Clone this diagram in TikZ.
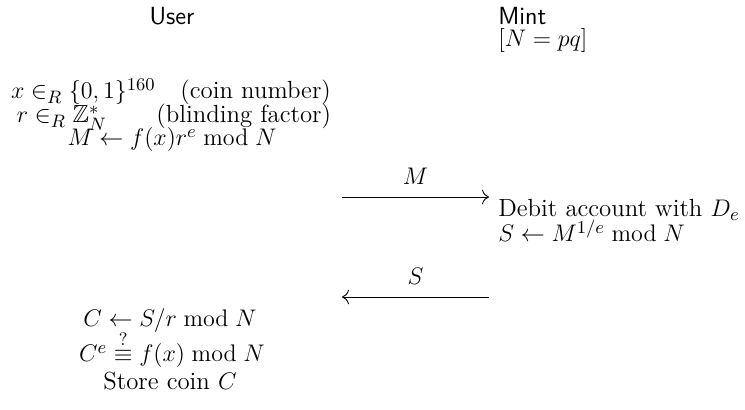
\documentclass[tikz,border=0pt]{standalone}
\usepackage{amsmath,amssymb}
\usetikzlibrary{arrows.meta}
\begin{document}
\begin{tikzpicture}[x=0.5pt,y=-0.5pt,
  every node/.style={font=\fontsize{12.4}{14}\selectfont},
  party/.style={font=\fontsize{12.4}{14}\selectfont\sffamily, inner sep=0pt, anchor=base},
  txt/.style={inner sep=0pt, anchor=base},
  msg/.style={-{To[length=3.5pt]}, line width=0.45pt}]
\useasboundingbox (0,0) rectangle (745,410);
\node[party] (user) at (172,25) {User};
\node[party, anchor=base west] (mint) at (498,25) {Mint};
\node[txt, anchor=base west] (npq) at (498,47) {$[N = pq]$};
\node[txt] (l1) at (171,99) {$x \in_R \{0,1\}^{160}$\quad(coin number)};
\node[txt] (l2) at (174,123) {$r \in_R \mathbb{Z}_N^*$\qquad(blinding factor)};
\node[txt] (l3) at (172,146) {$M \leftarrow f(x) r^e \bmod N$};
\coordinate (a1s) at (342,197);
\coordinate (a1e) at (489,197);
\draw[msg] (a1s) -- node[above=6pt, inner sep=0pt] (mlab) {$M$} (a1e);
\node[txt, anchor=base west] (d1) at (498,217) {Debit account with $D_e$};
\node[txt, anchor=base west] (d2) at (498,242) {$S \leftarrow M^{1/e} \bmod N$};
\coordinate (a2s) at (489,297);
\coordinate (a2e) at (342,297);
\draw[msg] (a2s) -- node[above=6pt, inner sep=0pt] (slab) {$S$} (a2e);
\node[txt] (c1) at (170,327) {$C \leftarrow S/r \bmod N$};
\node[txt] (c2) at (172,362) {$C^e \overset{?}{\equiv} f(x) \bmod N$};
\node[txt] (c3) at (170,390) {Store coin $C$};
\end{tikzpicture}
\end{document}
